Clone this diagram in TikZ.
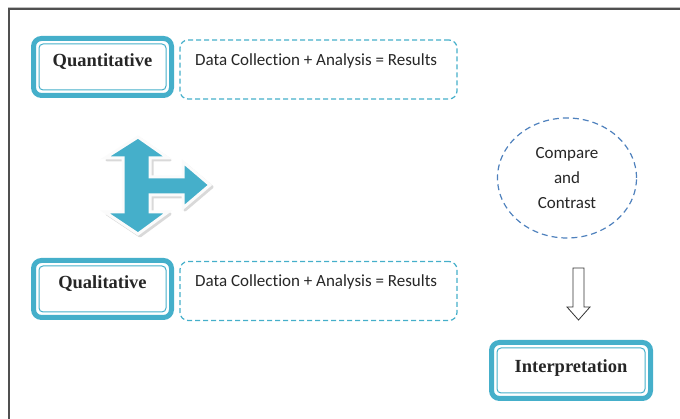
\documentclass[tikz,border=0pt]{standalone}
\usepackage{fontspec}
\setmainfont{Liberation Serif}
\newfontfamily\calfont[Ligatures=NoCommon]{Carlito}
\usetikzlibrary{shapes.geometric}
\definecolor{aqua}{HTML}{45AFCA}
\definecolor{dblue}{HTML}{4F81BD}
\definecolor{framec}{HTML}{505050}
\begin{document}
\begin{tikzpicture}[x=1pt,y=1pt,
  mainbox/.style={draw=aqua, line width=5pt, rounded corners=8pt, inner sep=0pt,
    minimum width=138pt, minimum height=57pt, text height=8pt, text depth=8pt,
    font=\fontsize{18.5}{22}\selectfont\bfseries, text=black!85,
    path picture={\draw[aqua, line width=1pt, rounded corners=4pt]
      ([shift={(5.5pt,5.5pt)}]path picture bounding box.south west) rectangle
      ([shift={(-5.5pt,-5.5pt)}]path picture bounding box.north east);}},
  dbox/.style={draw=aqua, line width=1.2pt, dash pattern=on 5pt off 3pt,
    rounded corners=8pt, minimum width=277pt, minimum height=59pt, inner sep=0pt},
  datatext/.style={font=\calfont\fontsize{17}{20}\selectfont, text=black!85, inner sep=0pt},
  circ/.style={ellipse, draw=dblue, line width=1.2pt, dash pattern=on 6pt off 4pt,
    minimum width=139pt, minimum height=120pt, align=center, inner sep=0pt,
    font=\calfont\fontsize{17}{25}\selectfont, text=black!85}
]
\useasboundingbox (0,0) rectangle (680,419);
% frame
\draw[gray!50, line width=0.8pt] (680,411.3) -- (8,411.3);
\draw[framec, line width=1.5pt] (680,410) -- (9,410) -- (9,0);

% boxes
\node[mainbox] (quant) at (102.5,352) {Quantitative};
\node[dbox] (d1) at (318.5,349.5) {};
\node[datatext, anchor=west] (t1) at (195,358) {Data Collection + Analysis = Results};

\node[mainbox] (qual) at (102.5,130) {Qualitative};
\node[dbox] (d2) at (318.5,128) {};
\node[datatext, anchor=west] (t2) at (195,137) {Data Collection + Analysis = Results};

\node[circ] (cc) at (567,241) {Compare\\and\\Contrast};

\node[mainbox, minimum width=159pt, minimum height=56pt, text height=8pt, text depth=4pt] (interp) at (571,48.5) {Interpretation};

% outlined down arrow
\draw[black!80, line width=0.8pt, line join=miter]
  (573,151) -- (584,151) -- (584,112) -- (590,112) -- (578.5,99) -- (567,112) -- (573,112) -- cycle;

% big 3-way arrow
\def\arrowpath{(138,282) -- (168,261) -- (150,261) -- (150,242) -- (183,242) -- (183,257)
  -- (210,234) -- (183,211) -- (183,224) -- (150,224) -- (150,207) -- (168,207)
  -- (138,185) -- (105,207) -- (123,207) -- (123,261) -- (105,261) -- cycle}
\fill[gray!45, draw=gray!30, line width=3pt, line join=round, shift={(2pt,-2pt)}] \arrowpath;
\filldraw[fill=aqua, draw=white!97!gray, line width=3pt, line join=miter] \arrowpath;
\end{tikzpicture}
\end{document}
